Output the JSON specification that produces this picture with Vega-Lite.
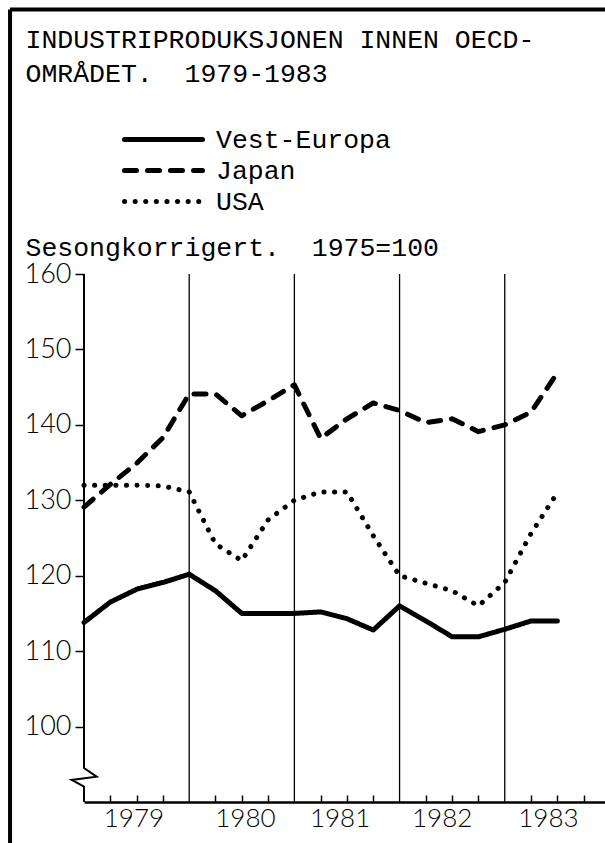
{
  "$schema": "https://vega.github.io/schema/vega-lite/v6.json",
  "width": 521,
  "height": 528,
  "autosize": {"type": "none"},
  "padding": {"left": 84, "top": 274, "right": 0, "bottom": 41},
  "background": "white",
  "config": {"view": {"stroke": null}},
  "datasets": {
    "series": [
      {"t": 1979.0, "region": "Vest-Europa", "v": 113.8},
      {"t": 1979.25, "region": "Vest-Europa", "v": 116.5},
      {"t": 1979.5, "region": "Vest-Europa", "v": 118.2},
      {"t": 1979.75, "region": "Vest-Europa", "v": 119.1},
      {"t": 1980.0, "region": "Vest-Europa", "v": 120.2},
      {"t": 1980.25, "region": "Vest-Europa", "v": 118.0},
      {"t": 1980.5, "region": "Vest-Europa", "v": 115.0},
      {"t": 1980.75, "region": "Vest-Europa", "v": 115.0},
      {"t": 1981.0, "region": "Vest-Europa", "v": 115.0},
      {"t": 1981.25, "region": "Vest-Europa", "v": 115.2},
      {"t": 1981.5, "region": "Vest-Europa", "v": 114.3},
      {"t": 1981.75, "region": "Vest-Europa", "v": 112.8},
      {"t": 1982.0, "region": "Vest-Europa", "v": 116.0},
      {"t": 1982.25, "region": "Vest-Europa", "v": 114.0},
      {"t": 1982.5, "region": "Vest-Europa", "v": 111.9},
      {"t": 1982.75, "region": "Vest-Europa", "v": 111.9},
      {"t": 1983.0, "region": "Vest-Europa", "v": 112.9},
      {"t": 1983.25, "region": "Vest-Europa", "v": 114.0},
      {"t": 1983.5, "region": "Vest-Europa", "v": 114.0},
      {"t": 1979.0, "region": "Japan", "v": 129.1},
      {"t": 1979.25, "region": "Japan", "v": 132.1},
      {"t": 1979.5, "region": "Japan", "v": 134.9},
      {"t": 1979.75, "region": "Japan", "v": 138.3},
      {"t": 1980.0, "region": "Japan", "v": 144.1},
      {"t": 1980.25, "region": "Japan", "v": 144.1},
      {"t": 1980.5, "region": "Japan", "v": 141.2},
      {"t": 1980.75, "region": "Japan", "v": 143.2},
      {"t": 1981.0, "region": "Japan", "v": 145.3},
      {"t": 1981.25, "region": "Japan", "v": 138.2},
      {"t": 1981.5, "region": "Japan", "v": 140.8},
      {"t": 1981.75, "region": "Japan", "v": 142.9},
      {"t": 1982.0, "region": "Japan", "v": 141.9},
      {"t": 1982.25, "region": "Japan", "v": 140.3},
      {"t": 1982.5, "region": "Japan", "v": 140.8},
      {"t": 1982.75, "region": "Japan", "v": 139.1},
      {"t": 1983.0, "region": "Japan", "v": 140.0},
      {"t": 1983.25, "region": "Japan", "v": 141.7},
      {"t": 1983.5, "region": "Japan", "v": 146.9},
      {"t": 1979.0, "region": "USA", "v": 132.0},
      {"t": 1979.25, "region": "USA", "v": 132.0},
      {"t": 1979.5, "region": "USA", "v": 132.0},
      {"t": 1979.75, "region": "USA", "v": 131.9},
      {"t": 1980.0, "region": "USA", "v": 131.1},
      {"t": 1980.25, "region": "USA", "v": 124.2},
      {"t": 1980.5, "region": "USA", "v": 122.0},
      {"t": 1980.75, "region": "USA", "v": 127.4},
      {"t": 1981.0, "region": "USA", "v": 130.0},
      {"t": 1981.25, "region": "USA", "v": 131.1},
      {"t": 1981.5, "region": "USA", "v": 131.1},
      {"t": 1981.75, "region": "USA", "v": 125.3},
      {"t": 1982.0, "region": "USA", "v": 120.0},
      {"t": 1982.25, "region": "USA", "v": 119.0},
      {"t": 1982.5, "region": "USA", "v": 118.0},
      {"t": 1982.75, "region": "USA", "v": 116.0},
      {"t": 1983.0, "region": "USA", "v": 119.1},
      {"t": 1983.25, "region": "USA", "v": 125.6},
      {"t": 1983.5, "region": "USA", "v": 131.0}
    ],
    "years": [{"year": 1980}, {"year": 1981}, {"year": 1982}, {"year": 1983}],
    "brk": [
      {"bx": 1979, "by": 160, "o": 0},
      {"bx": 1979, "by": 94.5, "o": 1},
      {"bx": 1979.12, "by": 93.36, "o": 2},
      {"bx": 1978.883, "by": 92.93, "o": 3},
      {"bx": 1979, "by": 92.03, "o": 4},
      {"bx": 1979, "by": 90, "o": 5}
    ],
    "border": [
      {"x1": 1978.297, "x2": 1978.297, "y1": 195.07, "y2": 80},
      {"x1": 1978.297, "x2": 1986, "y1": 195.07, "y2": 195.07}
    ]
  },
  "layer": [
    {
      "data": {"name": "border"},
      "mark": {"type": "rule", "color": "black", "strokeWidth": 4},
      "encoding": {
        "x": {"field": "x1", "type": "quantitative", "scale": {"domain": [1979, 1983.953], "nice": false, "zero": false}, "axis": null},
        "x2": {"field": "x2"},
        "y": {"field": "y1", "type": "quantitative", "scale": {"domain": [90, 160], "nice": false, "zero": false}, "axis": null},
        "y2": {"field": "y2"}
      }
    },
    {
      "data": {"name": "years"},
      "mark": {"type": "rule", "color": "black", "strokeWidth": 1.3},
      "encoding": {
        "x": {
          "field": "year", "type": "quantitative",
          "scale": {"domain": [1979, 1983.953], "nice": false, "zero": false},
          "axis": {
            "orient": "bottom",
            "values": [1979.47, 1980.53, 1981.43, 1982.4, 1983.41],
            "labelExpr": "floor(datum.value)",
            "ticks": false, "domain": false, "grid": false,
            "labelFont": "Lato", "labelFontSize": 26, "labelFontWeight": 300,
            "labelColor": "black", "labelPadding": 3, "labelBaseline": "top",
            "labelFlush": false, "labelOverlap": false,
            "title": null
          }
        }
      }
    },
    {
      "mark": {"type": "rule", "color": "black", "strokeWidth": 2},
      "encoding": {
        "y": {"datum": 160, "type": "quantitative", "scale": {"domain": [90, 160], "nice": false, "zero": false}, "axis": null}
      }
    },
    {
      "data": {"name": "brk"},
      "mark": {"type": "line", "color": "black", "strokeWidth": 2, "strokeJoin": "miter"},
      "encoding": {
        "x": {"field": "bx", "type": "quantitative", "scale": {"domain": [1979, 1983.953], "nice": false, "zero": false}, "axis": null},
        "y": {"field": "by", "type": "quantitative", "scale": {"domain": [90, 160], "nice": false, "zero": false}, "axis": null},
        "order": {"field": "o", "type": "quantitative"}
      }
    },
    {
      "data": {"name": "series"},
      "mark": {"type": "line", "color": "black", "strokeWidth": 5, "strokeCap": "round", "strokeJoin": "round"},
      "encoding": {
        "x": {
          "field": "t", "type": "quantitative",
          "scale": {"domain": [1979, 1983.953], "nice": false, "zero": false},
          "axis": {
            "orient": "bottom",
            "values": [1979.25, 1979.5, 1979.75, 1980.25, 1980.5, 1980.75, 1981.25, 1981.5, 1981.75, 1982.25, 1982.5, 1982.75, 1983.25, 1983.5, 1983.75],
            "tickSize": -7, "tickWidth": 1.5, "tickColor": "black",
            "labels": false, "grid": false,
            "domain": true, "domainColor": "black", "domainWidth": 2.5,
            "title": ["INDUSTRIPRODUKSJONEN INNEN OECD-", "OMRÅDET.\u00a0\u00a01979-1983"],
            "titleX": -59, "titleY": -755, "titleAlign": "left", "titleAngle": 0,
            "titleBaseline": "alphabetic", "titleLineHeight": 34,
            "titleFont": "Liberation Mono", "titleFontSize": 26.5, "titleFontWeight": "normal", "titleColor": "black"
          }
        },
        "y": {
          "field": "v", "type": "quantitative",
          "scale": {"domain": [90, 160], "nice": false, "zero": false},
          "axis": {
            "orient": "left",
            "values": [100, 110, 120, 130, 140, 150, 160],
            "tickSize": 9, "tickWidth": 1.5, "tickColor": "black",
            "domain": false, "grid": false,
            "labelFont": "Lato", "labelFontSize": 27, "labelFontWeight": 300,
            "labelColor": "black", "labelPadding": 4,
            "title": "Sesongkorrigert.\u00a0\u00a01975=100",
            "titleX": -59, "titleY": -19, "titleAngle": 0, "titleAlign": "left",
            "titleBaseline": "alphabetic",
            "titleFont": "Liberation Mono", "titleFontSize": 26.5, "titleFontWeight": "normal", "titleColor": "black"
          }
        },
        "strokeDash": {
          "field": "region", "type": "nominal",
          "scale": {"domain": ["Vest-Europa", "Japan", "USA"], "range": [[1, 0], [12, 11], [0.1, 10.5]]},
          "legend": {
            "title": null, "orient": "none", "legendX": 64, "legendY": -150,
            "symbolType": "M-3,0H3", "symbolSize": 676, "symbolStrokeWidth": 5,
            "symbolStrokeColor": "black",
            "labelFont": "Liberation Mono", "labelFontSize": 26.5, "labelColor": "black",
            "labelOffset": 37, "labelLimit": 400, "rowPadding": 2, "padding": 0,
            "encode": {"symbols": {"update": {"strokeCap": {"value": "round"}}}}
          }
        }
      }
    }
  ],
  "resolve": {"axis": {"x": "independent", "y": "independent"}}
}
